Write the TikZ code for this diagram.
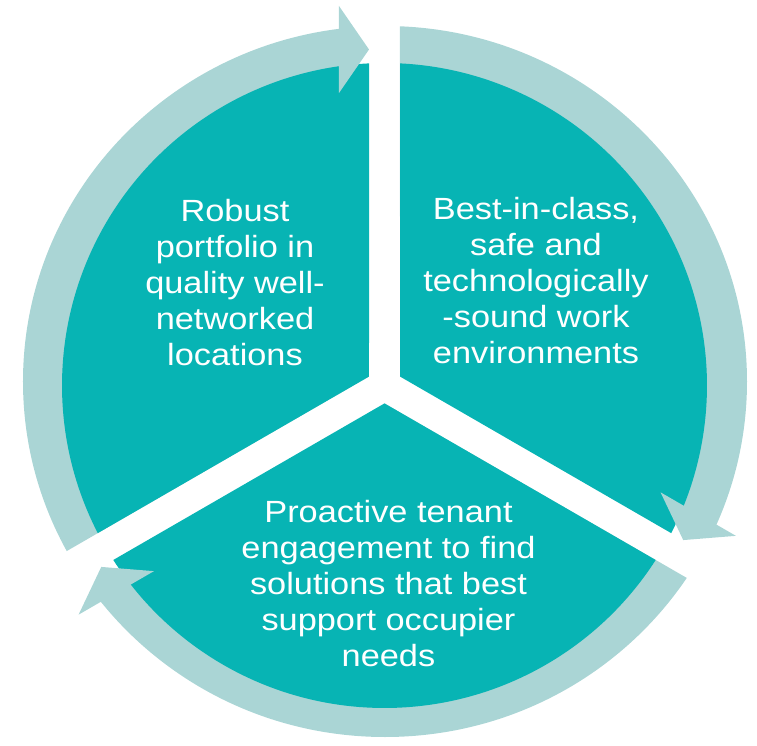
\documentclass[tikz,border=0pt]{standalone}
\usepackage{fontspec}
\newfontfamily\labelfont[FakeStretch=1.12]{Liberation Sans}

\definecolor{segfill}{RGB}{7,180,180}
\definecolor{ringfill}{RGB}{170,213,213}

\tikzset{
	segment/.style={fill=segfill},
	arrowpart/.style={fill=ringfill},
	cyclelabel/.style={text=white, align=center, inner sep=0pt,
		font=\labelfont\fontsize{23}{27}\selectfont}
}

\begin{document}
\begin{tikzpicture}[x=0.75pt,y=0.75pt]
		\useasboundingbox (-384.5,-360.5) rectangle (372.5,385.5);

		% arrow bodies (ring), cut at the gaps
		\foreach \r in {0,120,240} {
			\begin{scope}
				\clip[rotate=\r] (-15.5,8.95) -- (-613.97,-336.58) -- (-700,700) -- (-44,700) -- (-44,30) -- cycle;
				\fill[arrowpart] (0.5,4) ellipse[x radius=362, y radius=355.5];
			\end{scope}
		}

		% three pie segments
		\foreach \r in {0,120,240}
			\fill[segment, rotate=\r] (-15.5,8.95) -- (207.245:322.5) arc[start angle=207.245, end angle=92.755, radius=322.5] -- cycle;

		% arrow heads
		\foreach \r in {0,120,240}
			\fill[arrowpart, rotate=\r] (-15.5,336) -- (-45.5,379.5) -- (-45.5,292.5) -- cycle;

		\node[cyclelabel] (portfolio) at (-149.5,102.5) {Robust\\portfolio in\\quality well-\\networked\\locations};
		\node[cyclelabel] (workspace) at (151.5,105) {Best-in-class,\\safe and\\technologically\\-sound work\\environments};
		\node[cyclelabel] (tenants) at (4,-198.5) {Proactive tenant\\engagement to find\\solutions that best\\support occupier\\needs};
	\end{tikzpicture}
\end{document}
